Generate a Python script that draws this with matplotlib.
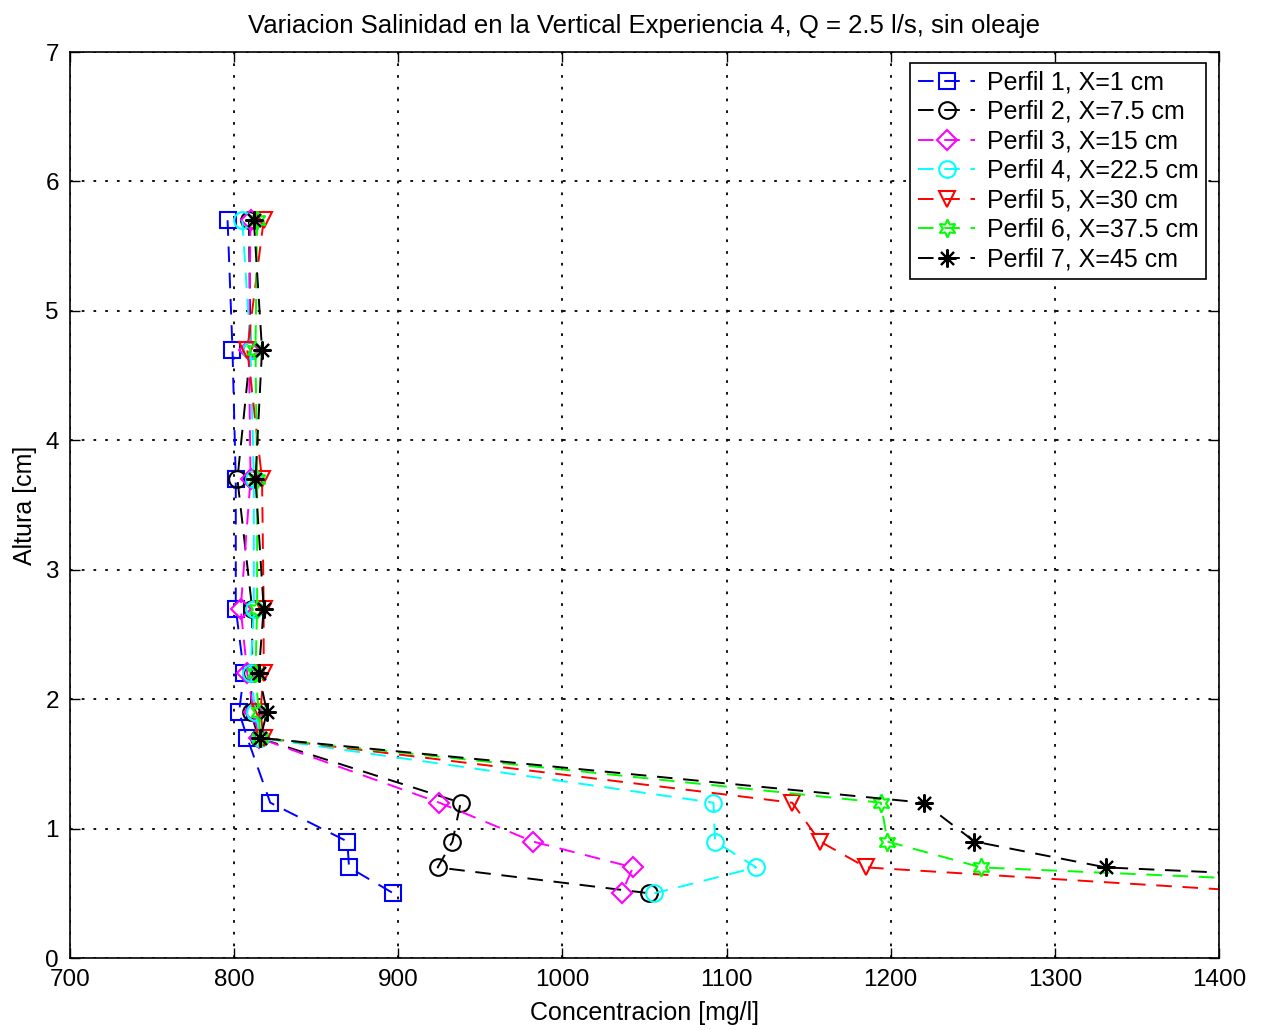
import matplotlib
matplotlib.use("Agg")
import matplotlib.pyplot as plt

plt.rcParams['font.family'] = ['Liberation Sans', 'DejaVu Sans']

# Measurement heights [cm]
altura = [5.7, 4.7, 3.7, 2.7, 2.2, 1.9, 1.7, 1.2, 0.9, 0.7, 0.5]

# Concentration profiles [mg/l]
perfil1 = [796, 799, 801, 801, 806, 803, 808, 822, 869, 870, 897]
perfil2 = [809, 810, 802, 811, 811, 810, 815, 938, 933, 924, 1053]
perfil3 = [810, 809, 810, 804, 808, 812, 815, 925, 982, 1043, 1036]
perfil4 = [805, 810, 812, 812, 810, 813, 816, 1092, 1093, 1118, 1056]
perfil5 = [818, 808, 817, 818, 818, 816, 818, 1140, 1157, 1185, 1440]
perfil6 = [814, 813, 814, 814, 813, 815, 816, 1194, 1198, 1255, 1620]
perfil7 = [812, 817, 813, 818, 815, 820, 816, 1220, 1251, 1331, 1680]

etiquetas = ["Perfil 1, X=1 cm", "Perfil 2, X=7.5 cm", "Perfil 3, X=15 cm",
             "Perfil 4, X=22.5 cm", "Perfil 5, X=30 cm", "Perfil 6, X=37.5 cm",
             "Perfil 7, X=45 cm"]

x_ticks = [700, 800, 900, 1000, 1100, 1200, 1300, 1400]
y_ticks = [0, 1, 2, 3, 4, 5, 6, 7]

series = [perfil1, perfil2, perfil3, perfil4, perfil5, perfil6, perfil7]
colores = ["#0000ff", "#000000", "#ff00ff", "#00ffff", "#ff0000", "#00ff00", "#000000"]
marcadores = ["s", "o", "D", "o", "v", (6, 1, 0), (8, 2, 0)]
tamanos = [11, 12, 10, 12, 12, 13, 13]

fig = plt.figure(figsize=(12.61, 10.30), dpi=100)
ax = fig.add_axes([0.0555, 0.0699, 0.9112, 0.8796])

for datos, col, mk, ms, lab in zip(series, colores, marcadores, tamanos, etiquetas):
    ax.plot(datos, altura, linestyle=(0, (8, 5.5)), color=col, linewidth=1.4,
            marker=mk, markersize=ms, markerfacecolor='none',
            markeredgecolor=col, markeredgewidth=1.5, label=lab)

ax.set_xlim(700, 1400)
ax.set_ylim(0, 7)
ax.set_xticks(x_ticks)
ax.set_yticks(y_ticks)
ax.tick_params(direction='in', length=7, width=1, top=True, right=True,
               labelsize=17.5)
ax.tick_params(axis='x', pad=8)
ax.tick_params(axis='y', pad=8)
ax.grid(True, color='black', linestyle=(0, (1.5, 5)), linewidth=1.3)
for s in ax.spines.values():
    s.set_linewidth(1.2)

ax.set_title("Variacion Salinidad en la Vertical Experiencia 4, Q = 2.5 l/s, sin oleaje",
             fontsize=18.5, pad=14)
ax.set_xlabel("Concentracion [mg/l]", fontsize=18, labelpad=7)
ax.set_ylabel("Altura [cm]", fontsize=18, labelpad=6)

leg = ax.legend(loc='upper right', bbox_to_anchor=(0.9885, 0.988), fontsize=18,
                frameon=True, fancybox=False, edgecolor='black', framealpha=1,
                handlelength=2.3, handletextpad=0.45, borderpad=0.3,
                labelspacing=0.22, borderaxespad=0)
leg.get_frame().set_linewidth(1.2)

fig.savefig("out.png", dpi=100)
